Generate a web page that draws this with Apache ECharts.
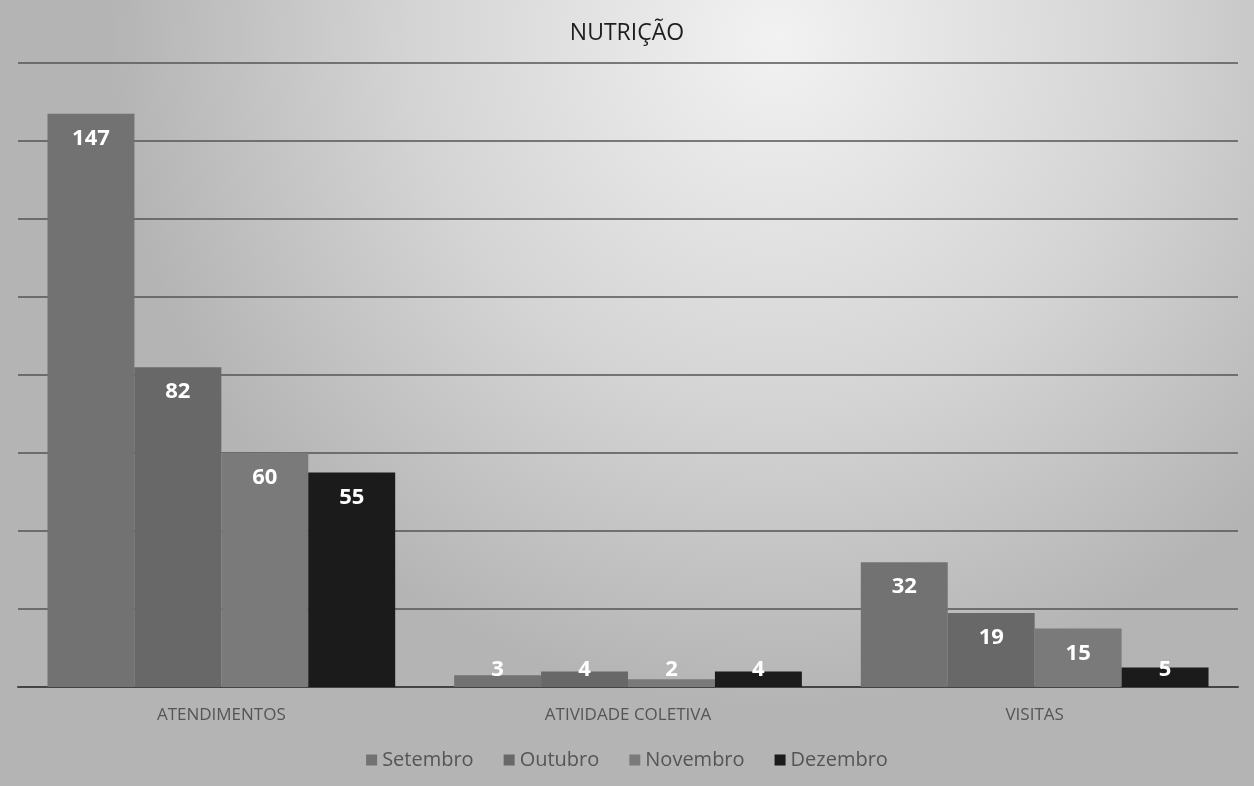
<!DOCTYPE html>
<html><head><meta charset="utf-8">
<style>html,body{margin:0;padding:0;background:#c8c8c8;}#c{width:1254px;height:786px;}</style>
<script src="https://cdn.jsdelivr.net/npm/echarts@6/dist/echarts.min.js"></script>
</head><body><div id="c"></div>
<script>
const categories = ['ATENDIMENTOS', 'ATIVIDADE COLETIVA', 'VISITAS'];
const seriesNames = ['Setembro', 'Outubro', 'Novembro', 'Dezembro'];
const setembro = [147, 3, 32];
const outubro = [82, 4, 19];
const novembro = [60, 2, 15];
const dezembro = [55, 4, 5];
const seriesValues = [setembro, outubro, novembro, dezembro];
const colors = ['#727272', '#686868', '#7a7a7a', '#1b1b1b'];

const chart = echarts.init(document.getElementById('c'), null, {renderer: 'canvas'});
const labelBase = {show: true, color: '#ffffff', fontWeight: 'bold', fontSize: 22, fontFamily: 'Open Sans'};
chart.setOption({
  backgroundColor: {
    type: 'radial', x: 0.62, y: 0.05, r: 0.85,
    colorStops: [{offset: 0, color: '#f2f2f2'}, {offset: 0.55, color: '#d4d4d4'}, {offset: 1, color: '#b4b4b4'}]
  },
  animation: false,
  title: {text: 'NUTRIÇÃO', left: 'center', top: 17, textStyle: {fontFamily: 'Open Sans', fontSize: 23, fontWeight: 'normal', color: '#1e1e1e'}},
  legend: {
    data: seriesNames, bottom: 11, left: 'center', itemWidth: 11, itemHeight: 11, itemGap: 30,
    icon: 'rect', textStyle: {fontFamily: 'Open Sans', fontSize: 20, color: '#555'}
  },
  grid: {left: 18, right: 16, top: 63, bottom: 99},
  xAxis: {
    type: 'category', data: categories,
    axisLine: {lineStyle: {color: '#444', width: 2}}, axisTick: {show: false},
    axisLabel: {fontFamily: 'Open Sans', fontSize: 17, color: '#555', margin: 20}
  },
  yAxis: {
    type: 'value', min: 0, max: 160, interval: 20,
    axisLabel: {show: false}, axisLine: {show: false}, axisTick: {show: false},
    splitLine: {lineStyle: {color: '#555', width: 1.5}}
  },
  series: seriesValues.map((vals, i) => ({
    name: seriesNames[i], type: 'bar', barGap: '0%', barCategoryGap: '14.5%',
    itemStyle: {color: colors[i]},
    data: vals.map(v => ({
      value: v,
      label: v < 11 ? Object.assign({}, labelBase, {position: 'insideBottom', distance: 6})
                    : Object.assign({}, labelBase, {position: 'insideTop', distance: 14})
    }))
  }))
});
</script></body></html>
